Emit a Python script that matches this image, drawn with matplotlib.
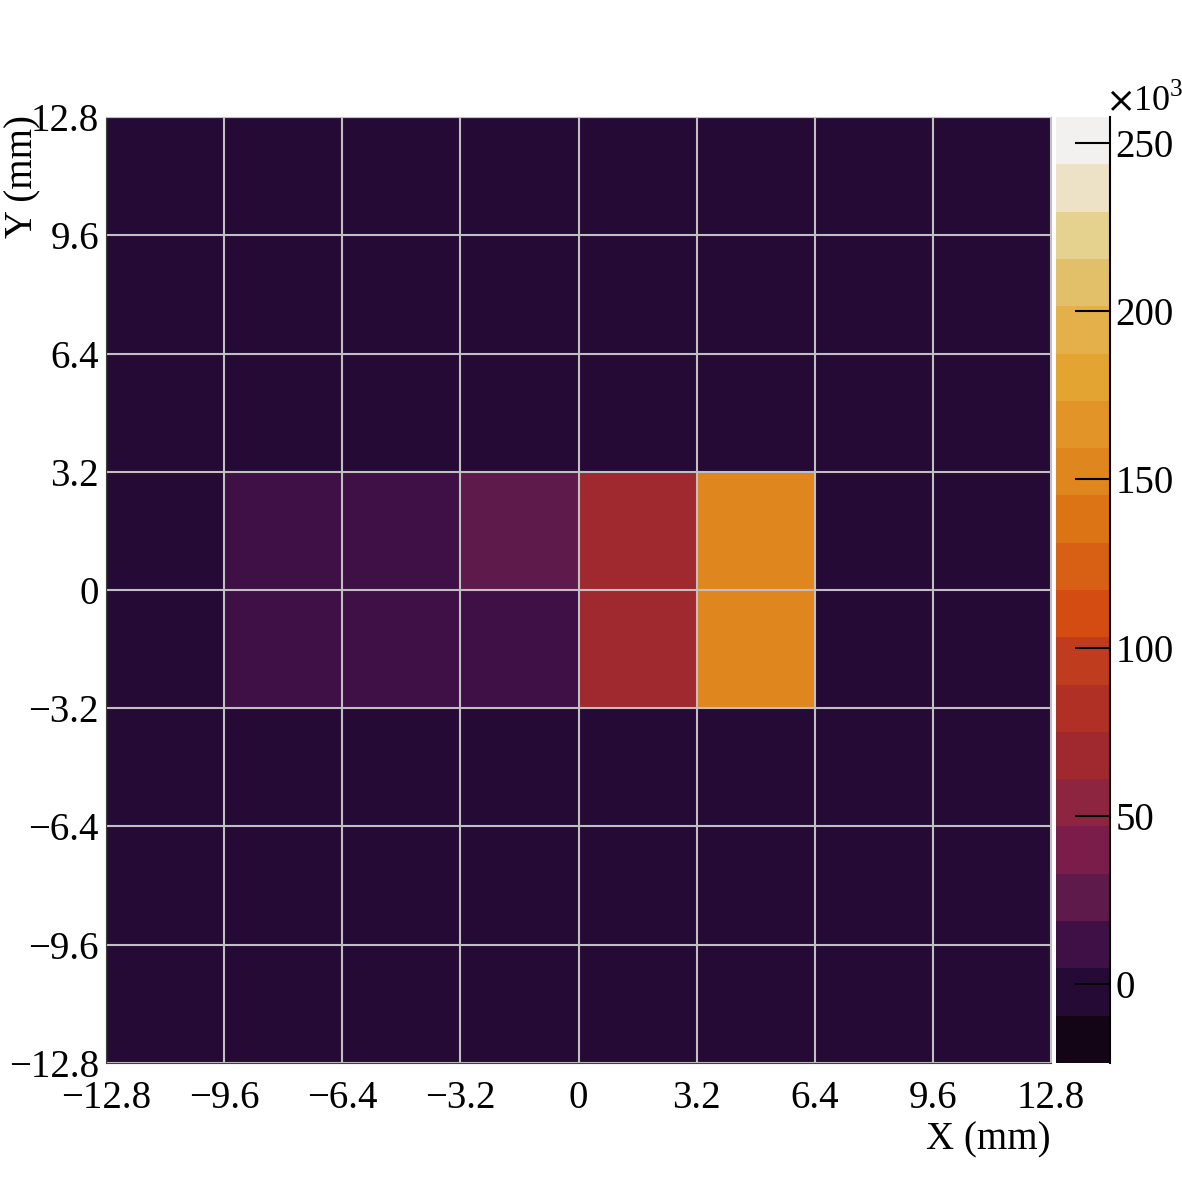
import numpy as np
import matplotlib
matplotlib.use("Agg")
import matplotlib.pyplot as plt
from matplotlib.colors import ListedColormap, BoundaryNorm
from matplotlib.ticker import FuncFormatter

plt.rcParams['font.family'] = ['Liberation Serif', 'DejaVu Serif']
plt.rcParams['mathtext.fontset'] = 'custom'
plt.rcParams['mathtext.rm'] = 'Liberation Serif'

# bin edges (mm)
x_edges = [-12.8, -9.6, -6.4, -3.2, 0.0, 3.2, 6.4, 9.6, 12.8]
y_edges = [-12.8, -9.6, -6.4, -3.2, 0.0, 3.2, 6.4, 9.6, 12.8]
tick_labels = ["\u221212.8", "\u22129.6", "\u22126.4", "\u22123.2", "0", "3.2", "6.4", "9.6", "12.8"]

# counts per bin, rows from bottom (y=-12.8) to top (y=12.8)
counts = [
    [0, 0,     0,     0,     0,     0,      0, 0],
    [0, 0,     0,     0,     0,     0,      0, 0],
    [0, 0,     0,     0,     0,     0,      0, 0],
    [0, 12000, 12000, 11000, 68000, 151000, 0, 0],
    [0, 13000, 12000, 25000, 67000, 152000, 0, 0],
    [0, 0,     0,     0,     0,     0,      0, 0],
    [0, 0,     0,     0,     0,     0,      0, 0],
    [0, 0,     0,     0,     0,     0,      0, 0],
]

z_min, z_max = -23500, 257700
cbar_ticks = [0, 50000, 100000, 150000, 200000, 250000]

# ROOT-like inferno palette, 20 contour levels
palette = ["#140516", "#250a36", "#3e1045", "#5e1a4a", "#7a1d4b",
           "#8e2540", "#a0282f", "#b03025", "#c03c1e", "#d54c12",
           "#d86015", "#dc7415", "#e0861e", "#e39428", "#e4a432",
           "#e4b04a", "#e2c06a", "#e6d28f", "#ede2c6", "#f2f1ef"]
cmap = ListedColormap(palette)
norm = BoundaryNorm(np.linspace(z_min, z_max, len(palette) + 1), cmap.N)

fig = plt.figure(figsize=(11.82, 11.82), dpi=100)
ax = fig.add_axes([0.0897, 0.1007, 0.7995, 0.8003])
mesh = ax.pcolormesh(x_edges, y_edges, np.array(counts), cmap=cmap, norm=norm)

ax.set_xlim(-12.8, 12.8)
ax.set_ylim(-12.8, 12.8)
ax.set_xticks(x_edges)
ax.set_yticks(y_edges)
ax.set_xticklabels(tick_labels)
ax.set_yticklabels(tick_labels)
ax.tick_params(length=0, labelsize=28, pad=12)
ax.tick_params(axis='y', pad=5)
ax.grid(True, color='#c0c0c0', lw=1.5)
for s in ['top', 'right']:
    ax.spines[s].set_color('#c0c0c0')
for s in ['left', 'bottom']:
    ax.spines[s].set_color('#404040')

fig.text(0.889, 0.020, "X (mm)", fontsize=28, ha='right', va='bottom')
fig.text(0.004, 0.903, "Y (mm)", fontsize=28, rotation=90, ha='left', va='top')

cax = fig.add_axes([0.8934, 0.1007, 0.0457, 0.8003])
cb = fig.colorbar(mesh, cax=cax, ticks=cbar_ticks)
cb.outline.set_visible(False)
cax.spines['right'].set_visible(True)
cax.spines['right'].set_color('black')
cax.spines['right'].set_linewidth(1.5)
cax.yaxis.set_major_formatter(FuncFormatter(lambda v, p: f"{v / 1000:.0f}"))
cax.tick_params(direction='in', length=25, width=1.5, labelsize=28, pad=4)
cax.minorticks_off()

# exponent label: a big multiplication sign, then 10^3
fig.text(0.9355, 0.906, "\u00d7", fontsize=26, family='DejaVu Serif',
         ha='left', va='baseline')
fig.text(0.9585, 0.906, "10$^{3}$", fontsize=26, ha='left', va='baseline')

plt.savefig("out.png", dpi=100)
plt.close()
